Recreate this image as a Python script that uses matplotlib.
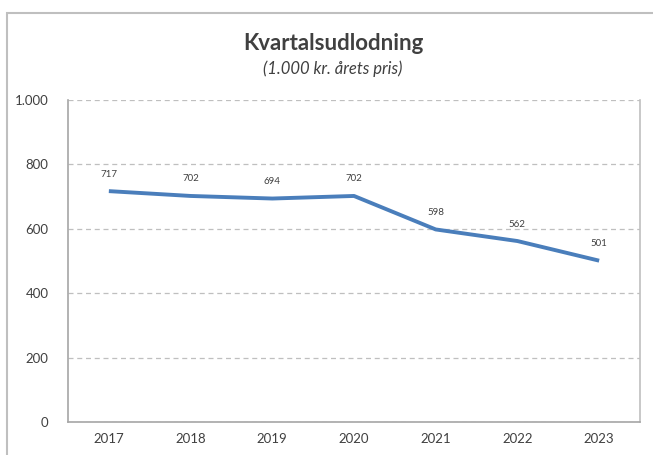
import matplotlib.pyplot as plt
from matplotlib.patches import Rectangle

years = ["2017", "2018", "2019", "2020", "2021", "2022", "2023"]
values = [717, 702, 694, 702, 598, 562, 501]
yticks = [0, 200, 400, 600, 800, 1000]
ytick_labels = ["0", "200", "400", "600", "800", "1.000"]

plt.rcParams['font.family'] = ['Lato', 'DejaVu Sans']

fig = plt.figure(figsize=(6.53, 4.55), dpi=100)
W, H = 653, 455
ax = fig.add_axes([68 / W, 1 - 422 / H, 572 / W, 322 / H])

# outer chart border (left + top only visible)
fig.add_artist(Rectangle((7 / W, -0.1), 1.0, 1 - 13 / H + 0.1, transform=fig.transFigure,
                         fill=False, edgecolor='#bfbfbf', linewidth=1.5))

x = range(len(years))
ax.plot(x, values, color='#4a7ebb', linewidth=2.8, solid_capstyle='butt')
for xi, v in zip(x, values):
    ax.annotate(str(v), (xi, v), xytext=(0, 9), textcoords='offset points',
                ha='center', va='bottom', fontsize=7, color='#404040')

ax.set_xlim(-0.5, 6.5)
ax.set_ylim(0, 1000)
ax.set_yticks(yticks)
ax.set_yticklabels(ytick_labels)
ax.set_xticks(list(x))
ax.set_xticklabels(years)
ax.tick_params(length=0, labelsize=9.5, colors='#404040')
ax.tick_params(axis='y', pad=14)
ax.tick_params(axis='x', pad=8)
ax.grid(axis='y', linestyle=(0, (4, 3)), color='#bfbfbf', linewidth=0.9)
for s in ['left', 'bottom']:
    ax.spines[s].set_color('#a6a6a6')
    ax.spines[s].set_linewidth(1.2)
ax.spines['right'].set_color('#bfbfbf')
ax.spines['right'].set_linewidth(1.2)
ax.spines['top'].set_visible(False)

fig.text(333 / W, 1 - 44 / H, "Kvartalsudlodning", ha='center', va='center',
         fontsize=16, fontweight='bold', color='#404040')
fig.text(333 / W, 1 - 69 / H, "(1.000 kr. årets pris)", ha='center', va='center',
         fontsize=12, style='italic', color='#404040')

fig.savefig("out.png", dpi=100)
